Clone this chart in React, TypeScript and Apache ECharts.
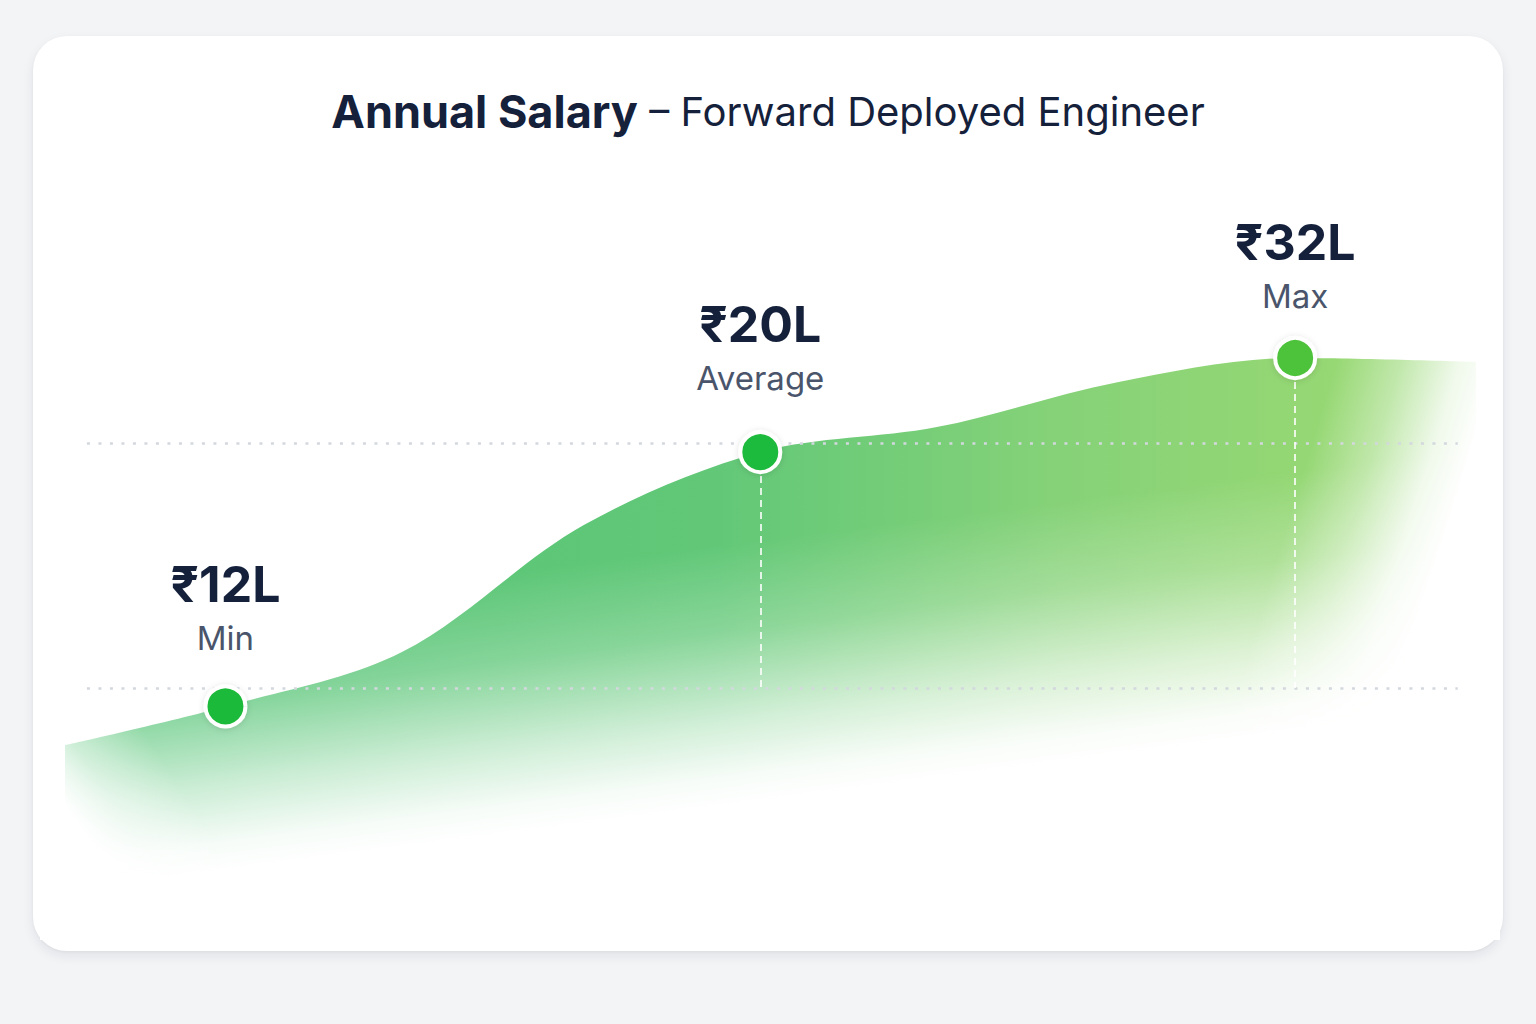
import { useEffect, useRef } from 'react'
import * as echarts from 'echarts'

// curve shape (x in "stat slot" units, y in plot levels)
const curveX = [0.7, 1.0, 1.33, 1.67, 2.0, 2.33, 2.67, 3.0, 3.338]
const curveLevel = [7.67, 9.25, 11.47, 16.65, 19.63, 20.65, 22.49, 23.47, 23.31]

// the three marked stats
const statNames = ['Min', 'Average', 'Max']
const salaryLakh = [12, 20, 32]
const statX = [1, 2, 3]
const statLevel = [9.25, 19.63, 23.47]

// dotted guide levels
const guideLevels = [10, 20]
const guideFrom = 0.741
const guideTo = 3.304

const dotColors = ['#1fba3b', '#1fba3c', '#4ec23b']
const labelGap = [22, 28, 16]
const FONT = 'Inter, "Noto Sans", "DejaVu Sans", sans-serif'

export default function App() {
  const chartRef = useRef<HTMLDivElement>(null)

  useEffect(() => {
    if (!chartRef.current) return
    const chart = echarts.init(chartRef.current, null, { renderer: 'svg' })

    const white = (a: number) => `rgba(255,255,255,${a})`

    const option = {
      animation: false,
      title: {
        left: 'center',
        top: 81,
        text: '{b|Annual Salary}{r| – Forward Deployed Engineer}',
        textStyle: {
          rich: {
            b: { fontFamily: FONT, fontSize: 45, fontWeight: 700, color: '#15213b', lineHeight: 50 },
            r: { fontFamily: FONT, fontSize: 40, fontWeight: 400, color: '#15213b', lineHeight: 50 }
          }
        }
      },
      grid: { left: 65, right: 59, top: 198, bottom: 91 },
      xAxis: { type: 'value', min: 0.7, max: 3.34, show: false },
      yAxis: { type: 'value', min: 0, max: 30, show: false },
      graphic: [
        // fade towards the bottom
        {
          type: 'rect',
          z: 3,
          silent: true,
          shape: { x: 40, y: 330, width: 1460, height: 610 },
          style: {
            fill: new echarts.graphic.LinearGradient(758, 540, 795, 828, [
              { offset: 0, color: white(0) },
              { offset: 0.3, color: white(0.25) },
              { offset: 0.6, color: white(0.7) },
              { offset: 0.8, color: white(0.95) },
              { offset: 0.9, color: white(1) },
              { offset: 1, color: white(1) }
            ], true)
          }
        },
        // fade on the right edge
        {
          type: 'rect',
          z: 3,
          silent: true,
          shape: { x: 1200, y: 330, width: 300, height: 610 },
          style: {
            fill: new echarts.graphic.LinearGradient(1330, 380, 1480, 425, [
              { offset: 0, color: white(0) },
              { offset: 0.4, color: white(0.4) },
              { offset: 0.75, color: white(0.85) },
              { offset: 1, color: white(1) }
            ], true)
          }
        },
        // fade on the left edge
        {
          type: 'rect',
          z: 3,
          silent: true,
          shape: { x: 40, y: 700, width: 260, height: 240 },
          style: {
            fill: new echarts.graphic.LinearGradient(60, 800, 150, 740, [
              { offset: 0, color: white(1) },
              { offset: 0.4, color: white(0.5) },
              { offset: 1, color: white(0) }
            ], true)
          }
        }
      ],
      series: [
        {
          type: 'line',
          z: 2,
          smooth: 0.33,
          symbol: 'none',
          silent: true,
          data: curveX.map((x, i) => [x, curveLevel[i]]),
          lineStyle: { width: 0, opacity: 0 },
          areaStyle: {
            opacity: 1,
            color: new echarts.graphic.LinearGradient(200, 0, 1350, 0, [
              { offset: 0, color: '#55c476' },
              { offset: 0.45, color: '#62c878' },
              { offset: 0.75, color: '#86d278' },
              { offset: 1, color: '#97d873' }
            ], true)
          },
          markLine: {
            silent: true,
            symbol: 'none',
            label: { show: false },
            data: [
              ...guideLevels.map((lv) => [
                { coord: [guideFrom, lv], lineStyle: { color: '#d3d7de', width: 2.5, type: [3, 8.5], cap: 'butt' } },
                { coord: [guideTo, lv] }
              ]),
              ...statX.slice(1).map((x, i) => [
                { coord: [x, statLevel[i + 1]], lineStyle: { color: 'rgba(255,255,255,0.8)', width: 2, type: [7, 5] } },
                { coord: [x, guideLevels[0]] }
              ])
            ]
          }
        },
        {
          type: 'scatter',
          z: 6,
          silent: true,
          symbol: 'circle',
          symbolSize: 40,
          data: statX.map((x, i) => ({
            value: [x, statLevel[i]],
            itemStyle: { color: dotColors[i] },
            label: { distance: labelGap[i] }
          })),
          itemStyle: {
            opacity: 1,
            borderColor: '#ffffff',
            borderWidth: 4,
            shadowBlur: 6,
            shadowColor: 'rgba(0,0,0,0.12)',
            shadowOffsetY: 1
          },
          label: {
            show: true,
            position: 'top',
            formatter: (p: any) => `{v|₹${salaryLakh[p.dataIndex]}L}\n{n|${statNames[p.dataIndex]}}`,
            rich: {
              v: { fontFamily: FONT, fontSize: 50, fontWeight: 700, color: '#15213b', lineHeight: 60, align: 'center' },
              n: { fontFamily: FONT, fontSize: 33, fontWeight: 400, color: '#4a556b', lineHeight: 48, align: 'center' }
            }
          }
        }
      ]
    }

    chart.setOption(option)

    return () => {
      chart.dispose()
    }
  }, [])

  return (
    <div style={{ position: 'fixed', inset: 0, background: '#f3f4f6' }}>
      <div
        style={{
          position: 'absolute',
          left: 33,
          top: 36,
          width: 1470,
          height: 915,
          borderRadius: 34,
          background: '#ffffff',
          boxShadow: '0 5px 12px rgba(20,30,50,0.08), 0 1px 3px rgba(20,30,50,0.04)'
        }}
      />
      <div ref={chartRef} style={{ position: 'absolute', left: 0, top: 0, width: 1536, height: 1024 }} />
    </div>
  )
}
